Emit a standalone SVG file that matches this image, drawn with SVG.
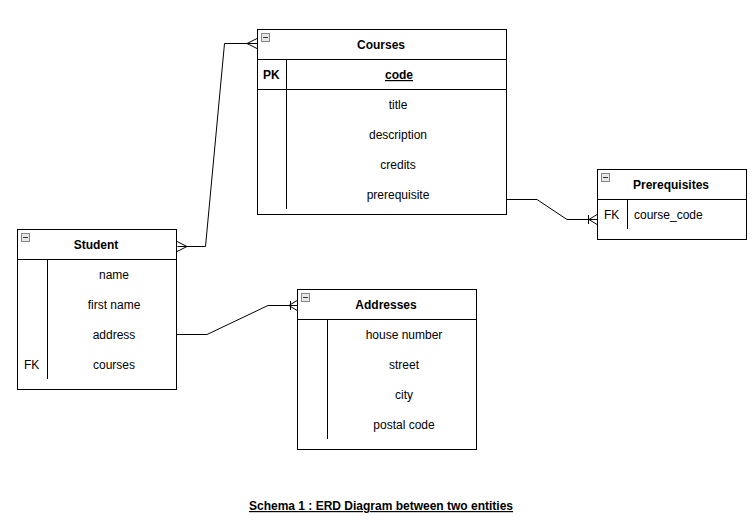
<svg xmlns="http://www.w3.org/2000/svg" width="752" height="525" viewBox="0 0 752 525">
<style>
.box{fill:#fff;stroke:#000;stroke-width:1}
.ln{fill:none;stroke:#000;stroke-width:1}
text{font-family:"Liberation Sans",Arial,sans-serif;font-size:12px;fill:#000}
.h{font-weight:bold;text-anchor:middle}
.c{text-anchor:middle}
.b{font-weight:bold}
.ic{fill:#e8e8e8;stroke:#888;stroke-width:1}
.icm{stroke:#333;stroke-width:1}
</style>
<defs>
<g id="icon"><rect class="ic" x="0.5" y="0.5" width="8" height="8"/><line class="icm" x1="2" y1="4.5" x2="7" y2="4.5"/></g>
</defs>
<rect width="752" height="525" fill="#fff"/>
<g id="connectors" class="ln">
<path d="M177.5,246.5 H205.5 L224.5,43.5 H257"/>
<path d="M257,38.5 L247,43.5 L257,48.5"/>
<path d="M177,241.5 L187,246.5 L177,251.5"/>
<path d="M506,199.5 H537 L567,219.5 H597"/>
<path d="M597,214.5 L589,219.5 L597,224.5 M588.5,215 V224"/>
<path d="M177,334.5 H207 L268,305.5 H297"/>
<path d="M297,300.5 L289,305.5 L297,310.5 M290.5,301 V310"/>
</g>
<g id="courses">
<rect class="box" x="257.5" y="29.5" width="249" height="185"/>
<line class="ln" x1="257.5" y1="59.5" x2="506.5" y2="59.5"/>
<line class="ln" x1="257.5" y1="89.5" x2="506.5" y2="89.5"/>
<line class="ln" x1="286.5" y1="59.5" x2="286.5" y2="209"/>
<use href="#icon" x="261" y="33"/>
<text class="h" x="381" y="49">Courses</text>
<text class="b" x="263" y="79">PK</text>
<text class="b c" x="399" y="79" text-decoration="underline">code</text>
<text class="c" x="398" y="109">title</text>
<text class="c" x="398" y="139">description</text>
<text class="c" x="398" y="169">credits</text>
<text class="c" x="398" y="199">prerequisite</text>
</g>
<g id="prerequisites">
<rect class="box" x="597.5" y="169.5" width="149" height="70"/>
<line class="ln" x1="597.5" y1="199.5" x2="746.5" y2="199.5"/>
<line class="ln" x1="627.5" y1="199.5" x2="627.5" y2="229"/>
<use href="#icon" x="601" y="173"/>
<text class="h" x="671" y="189">Prerequisites</text>
<text x="604" y="219">FK</text>
<text x="634" y="219">course_code</text>
</g>
<g id="student">
<rect class="box" x="17.5" y="229.5" width="159" height="160"/>
<line class="ln" x1="17.5" y1="259.5" x2="176.5" y2="259.5"/>
<line class="ln" x1="47.5" y1="259.5" x2="47.5" y2="379"/>
<use href="#icon" x="21" y="233"/>
<text class="h" x="96" y="249">Student</text>
<text class="c" x="114" y="279">name</text>
<text class="c" x="114" y="309">first name</text>
<text class="c" x="114" y="339">address</text>
<text x="24" y="369">FK</text>
<text class="c" x="114" y="369">courses</text>
</g>
<g id="addresses">
<rect class="box" x="297.5" y="289.5" width="179" height="160"/>
<line class="ln" x1="297.5" y1="319.5" x2="476.5" y2="319.5"/>
<line class="ln" x1="327.5" y1="319.5" x2="327.5" y2="439"/>
<use href="#icon" x="301" y="293"/>
<text class="h" x="386" y="309">Addresses</text>
<text class="c" x="404" y="339">house number</text>
<text class="c" x="404" y="369">street</text>
<text class="c" x="404" y="399">city</text>
<text class="c" x="404" y="429">postal code</text>
</g>
<text class="b c" x="381" y="510" text-decoration="underline">Schema 1 : ERD Diagram between two entities</text>
</svg>
